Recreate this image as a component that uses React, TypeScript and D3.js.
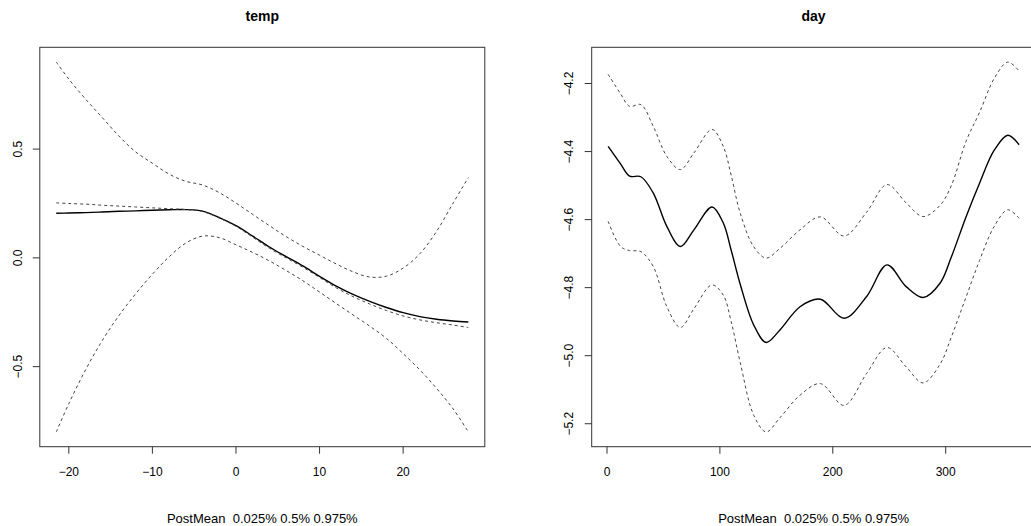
import React from "react";
import * as d3 from "d3";

// ---- temp panel data ----
const tempX = [-21.5, -20, -18, -16, -14, -12, -10, -8, -6, -4, -2, 0, 2, 4, 6, 8, 10, 12, 14, 16, 18, 20, 22, 24, 26, 27.8];
const tempMean = [0.205, 0.206, 0.208, 0.211, 0.214, 0.216, 0.219, 0.221, 0.222, 0.215, 0.185, 0.148, 0.1, 0.05, 0.006, -0.037, -0.085, -0.13, -0.168, -0.2, -0.228, -0.252, -0.27, -0.282, -0.29, -0.295];
const tempQ025 = [-0.8, -0.67, -0.515, -0.38, -0.265, -0.165, -0.075, 0.005, 0.068, 0.1, 0.093, 0.06, 0.025, -0.014, -0.058, -0.105, -0.157, -0.21, -0.262, -0.314, -0.37, -0.44, -0.515, -0.6, -0.695, -0.8];
const tempQ50 = [0.253, 0.25, 0.247, 0.242, 0.238, 0.234, 0.23, 0.226, 0.222, 0.213, 0.183, 0.145, 0.095, 0.044, 0.0, -0.043, -0.09, -0.138, -0.178, -0.212, -0.242, -0.267, -0.285, -0.298, -0.309, -0.32];
const tempQ975 = [0.9, 0.822, 0.73, 0.645, 0.56, 0.487, 0.435, 0.385, 0.352, 0.335, 0.3, 0.252, 0.2, 0.148, 0.098, 0.053, 0.012, -0.028, -0.064, -0.088, -0.084, -0.047, 0.019, 0.122, 0.253, 0.369];
const tempXTicks = [-20, -10, 0, 10, 20];
const tempYTicks = [-0.5, 0, 0.5];

// ---- day panel data ----
const dayX = [1, 12, 20, 30, 41, 53, 65, 77, 93, 103, 110, 118, 130, 141, 153, 171, 189, 210, 230, 248, 265, 280, 295, 305, 318, 330, 343, 355, 365];
const dayMean = [-4.385, -4.436, -4.472, -4.474, -4.522, -4.62, -4.679, -4.63, -4.563, -4.61, -4.69, -4.79, -4.91, -4.961, -4.925, -4.856, -4.834, -4.89, -4.826, -4.733, -4.797, -4.829, -4.787, -4.71, -4.592, -4.493, -4.396, -4.352, -4.38];
const dayQ025 = [-4.605, -4.679, -4.691, -4.694, -4.738, -4.856, -4.917, -4.862, -4.792, -4.822, -4.9, -5.02, -5.175, -5.224, -5.183, -5.116, -5.082, -5.146, -5.052, -4.976, -5.033, -5.08, -5.025, -4.945, -4.828, -4.72, -4.62, -4.571, -4.596];
const dayQ975 = [-4.173, -4.23, -4.267, -4.262, -4.326, -4.414, -4.453, -4.404, -4.335, -4.385, -4.47, -4.581, -4.68, -4.713, -4.685, -4.63, -4.592, -4.648, -4.578, -4.497, -4.551, -4.591, -4.558, -4.5, -4.37, -4.285, -4.185, -4.137, -4.163];
const dayXTicks = [0, 100, 200, 300];
const dayYTicks = [-5.2, -5.0, -4.8, -4.6, -4.4, -4.2];

const legendText = "PostMean  0.025% 0.5% 0.975%";

const W = 1031;
const H = 526;
const TOP = 47.3;
const BOTTOM = 446.7;

function ext(vals: number[]): [number, number] {
  const lo = d3.min(vals) as number;
  const hi = d3.max(vals) as number;
  const pad = (hi - lo) * 0.04;
  return [lo - pad, hi + pad];
}

function fmt(v: number, digits: number) {
  const s = v.toFixed(digits);
  return s.replace("-", "\u2212");
}

type Series = { y: number[]; dashed: boolean };

function Panel(props: {
  title: string;
  xs: number[];
  series: Series[];
  left: number;
  right: number;
  xTicks: number[];
  yTicks: number[];
  yDigits: number;
}) {
  const { title, xs, series, left, right, xTicks, yTicks, yDigits } = props;
  const allY = series.flatMap((s) => s.y);
  const x = d3.scaleLinear().domain(ext(xs)).range([left, right]);
  const y = d3.scaleLinear().domain(ext(allY)).range([BOTTOM, TOP]);
  const cx = (left + right) / 2;
  const font = "Liberation Sans, Arial, sans-serif";
  return (
    <g>
      <text x={cx} y={21} textAnchor="middle" fontFamily={font} fontWeight="bold" fontSize={14} fill="#000">
        {title}
      </text>
      {series.map((s, i) => {
        const line = d3
          .line<number>()
          .x((_, j) => x(xs[j]))
          .y((v) => y(v))
          .curve(d3.curveCatmullRom.alpha(0.5));
        return (
          <path
            key={i}
            d={line(s.y) || ""}
            fill="none"
            stroke={s.dashed ? "#444" : "#000"}
            strokeWidth={s.dashed ? 1 : 1.4}
            strokeDasharray={s.dashed ? "3,3" : undefined}
          />
        );
      })}
      <rect x={left} y={TOP} width={right - left} height={BOTTOM - TOP} fill="none" stroke="#333" strokeWidth={1} />
      {xTicks.map((t) => (
        <g key={"x" + t}>
          <line x1={x(t)} x2={x(t)} y1={BOTTOM} y2={BOTTOM + 7} stroke="#333" />
          <text x={x(t)} y={476} textAnchor="middle" fontFamily={font} fontSize={12} fill="#000">
            {fmt(t, 0)}
          </text>
        </g>
      ))}
      {yTicks.map((t) => (
        <g key={"y" + t}>
          <line x1={left - 7} x2={left} y1={y(t)} y2={y(t)} stroke="#333" />
          <text
            transform={`translate(${left - 18.3},${y(t)}) rotate(-90)`}
            textAnchor="middle"
            fontFamily={font}
            fontSize={12}
            fill="#000"
          >
            {fmt(t, yDigits)}
          </text>
        </g>
      ))}
      <text x={cx} y={523} textAnchor="middle" fontFamily={font} fontSize={13} fill="#000" style={{ whiteSpace: "pre" }}>
        {legendText}
      </text>
    </g>
  );
}

export default function App() {
  return (
    <svg
      width={W}
      height={H}
      style={{ position: "absolute", left: 0, top: 0, background: "#fff" }}
      xmlSpace="preserve"
    >
      <rect x={0} y={0} width={W} height={H} fill="#fff" />
      <Panel
        title="temp"
        xs={tempX}
        series={[
          { y: tempMean, dashed: false },
          { y: tempQ025, dashed: true },
          { y: tempQ50, dashed: true },
          { y: tempQ975, dashed: true },
        ]}
        left={39.8}
        right={484.8}
        xTicks={tempXTicks}
        yTicks={tempYTicks}
        yDigits={1}
      />
      <Panel
        title="day"
        xs={dayX}
        series={[
          { y: dayMean, dashed: false },
          { y: dayQ025, dashed: true },
          { y: dayQ975, dashed: true },
        ]}
        left={591.7}
        right={1035.5}
        xTicks={dayXTicks}
        yTicks={dayYTicks}
        yDigits={1}
      />
    </svg>
  );
}
